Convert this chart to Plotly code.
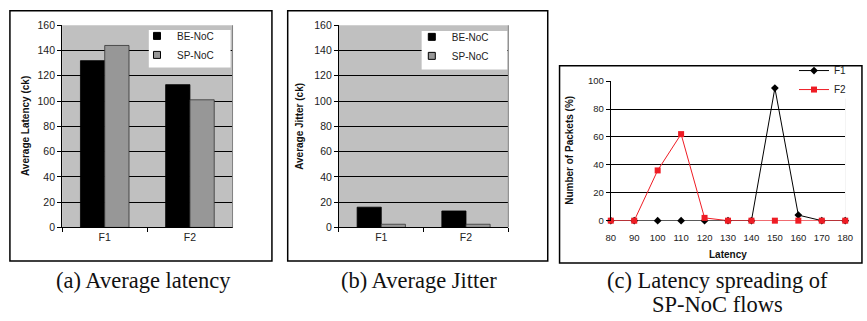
import plotly.graph_objects as go

# ---- data ----
flows = ["F1", "F2"]
latency_be = [132, 113]
latency_sp = [144, 101]
jitter_be = [16, 13]
jitter_sp = [2.5, 2.5]

latency_bins = [80, 90, 100, 110, 120, 130, 140, 150, 160, 170, 180]
f1_share = [0, 0, 0, 0, 0, 0, 0, 95, 4, 0, 0]
f2_share = [0, 0, 36, 62, 2, 0, 0, 0, 0, 0, 0]

series_names = ["BE-NoC", "SP-NoC"]

W, H = 867, 321
SANS = "Liberation Sans, Arial, sans-serif"
SERIF = "Liberation Serif, Times New Roman, serif"
BAR_COLORS = ["#000000", "#979797"]
BAR_EDGES = ["#000000", "#333333"]
PLOT_BG = "#c0c0c0"


def px_x(v):
    return v / W


def px_y(v):
    return 1 - v / H


fig = go.Figure()

panels = [
    ("x", "y", "legend", [latency_be, latency_sp]),
    ("x2", "y2", "legend2", [jitter_be, jitter_sp]),
]
for xa, ya, lg, values in panels:
    for name, vals, col, edge in zip(series_names, values, BAR_COLORS, BAR_EDGES):
        fig.add_trace(go.Bar(x=flows, y=vals, name=name, showlegend=False,
                             marker=dict(color=col, line=dict(color=edge, width=0.8)),
                             xaxis=xa, yaxis=ya))
    # small square swatches for the legend box
    for name, col in zip(series_names, BAR_COLORS):
        fig.add_trace(go.Scatter(x=[None], y=[None], mode="markers", name=name,
                                 marker=dict(symbol="square", size=7, color=col,
                                             line=dict(color="#000", width=1)),
                                 xaxis=xa, yaxis=ya, legend=lg))

# (c) latency spreading
fig.add_trace(go.Scatter(x=latency_bins, y=f1_share, name="F1", mode="lines+markers",
                         line=dict(color="#000", width=1), marker=dict(symbol="diamond", size=6, color="#000"),
                         cliponaxis=False, xaxis="x3", yaxis="y3", legend="legend3"))
fig.add_trace(go.Scatter(x=latency_bins, y=f2_share, name="F2", mode="lines+markers",
                         line=dict(color="#ee1c24", width=1), marker=dict(symbol="square", size=6, color="#ee1c24"),
                         cliponaxis=False, xaxis="x3", yaxis="y3", legend="legend3"))

bar_y = [px_y(230), px_y(20)]
tick_font = dict(family=SANS, size=10.5, color="#222")

bar_xaxis = dict(type="category", range=[-0.5, 1.5], showline=True, linecolor="#000", linewidth=1,
                 ticks="outside", tickson="boundaries", ticklen=4, tickcolor="#000",
                 tickfont=tick_font, showgrid=False, zeroline=False, fixedrange=True)
bar_yaxis = dict(range=[0, 160], dtick=20, showline=True, linecolor="#000", linewidth=1,
                 ticks="outside", ticklen=4, tickcolor="#000", tickfont=tick_font,
                 showgrid=True, gridcolor="#000", gridwidth=1, zeroline=False, fixedrange=True)
legend_font = dict(family=SANS, size=10, color="#222")
legend_base = dict(xanchor="left", yanchor="top", bgcolor="rgba(0,0,0,0)",
                   font=legend_font, tracegroupgap=0, borderwidth=0)

fig.update_layout(
    width=W, height=H,
    margin=dict(l=0, r=0, t=0, b=0),
    paper_bgcolor="white",
    plot_bgcolor=PLOT_BG,
    barmode="group", bargap=0.43, bargroupgap=0,
    font=dict(family=SANS, size=10, color="#222"),
    xaxis=dict(bar_xaxis, domain=[px_x(58), px_x(231)], anchor="y"),
    yaxis=dict(bar_yaxis, domain=bar_y, anchor="x"),
    xaxis2=dict(bar_xaxis, domain=[px_x(339), px_x(511)], anchor="y2"),
    yaxis2=dict(bar_yaxis, domain=bar_y, anchor="x2"),
    xaxis3=dict(range=[80, 180], tickvals=latency_bins, showline=False, ticks="",
                ticklabelstandoff=10,
                tickfont=dict(family=SANS, size=9.5, color="#222"), showgrid=False, zeroline=False,
                domain=[px_x(615), px_x(853)], anchor="y3", fixedrange=True),
    yaxis3=dict(range=[0, 100], dtick=20, showline=True, linecolor="#000", linewidth=1,
                ticks="outside", ticklen=4, tickcolor="#000",
                tickfont=dict(family=SANS, size=9.5, color="#222"),
                showgrid=True, gridcolor="#000", gridwidth=1, zeroline=False,
                domain=[px_y(223), px_y(78)], anchor="x3", fixedrange=True),
    legend=dict(legend_base, x=px_x(134), y=px_y(16)),
    legend2=dict(legend_base, x=px_x(413), y=px_y(17)),
    legend3=dict(legend_base, x=px_x(801), y=px_y(52)),
    showlegend=True,
)

# plot area of (c) is white, drawn as a shape under the grid
fig.add_shape(type="rect", xref="x3 domain", yref="y3 domain", x0=0, x1=1, y0=0, y1=1,
              fillcolor="white", line=dict(width=0), layer="below")

# panel frames
frames = [(5, 271, 5, 265), (287, 551, 5, 265), (563, 870, 62, 267)]
for x0, x1, y0, y1 in frames:
    fig.add_shape(type="rect", xref="paper", yref="paper",
                  x0=px_x(x0), x1=px_x(x1), y0=px_y(y1), y1=px_y(y0),
                  line=dict(color="#000", width=1.5), fillcolor="rgba(0,0,0,0)", layer="below")

# white legend boxes
legend_boxes = [(146, 229, 25, 64), (423, 510, 26, 66), (813, 867, 64, 96)]
for x0, x1, y0, y1 in legend_boxes:
    fig.add_shape(type="rect", xref="paper", yref="paper",
                  x0=px_x(x0), x1=px_x(x1), y0=px_y(y1), y1=px_y(y0),
                  fillcolor="white", line=dict(width=0), layer="above")

# gray right edge of the bar plot areas
for xr, yr in [("x domain", "y domain"), ("x2 domain", "y2 domain")]:
    fig.add_shape(type="line", xref=xr, yref=yr, x0=1, x1=1, y0=0, y1=1,
                  line=dict(color="#808080", width=1))


def label(text, x, y, font, angle=0):
    fig.add_annotation(text=text, x=px_x(x), y=px_y(y), xref="paper", yref="paper",
                       xanchor="center", yanchor="middle", textangle=angle,
                       showarrow=False, font=font)


# axis titles
title_font = dict(family=SANS, size=10, color="#111")
label("<b>Average Latency (ck)</b>", 21, 125, title_font, -90)
label("<b>Average Jitter (ck)</b>", 299, 125, title_font, -90)
label("<b>Number of Packets (%)</b>", 573, 150, title_font, -90)
label("<b>Latency</b>", 734, 258, title_font)

# captions
cap_font = dict(family=SERIF, size=22.5, color="#111")
label("(a) Average latency", 141, 285, cap_font)
label("(b) Average Jitter", 420, 285, cap_font)
label("(c) Latency spreading of", 723, 285, cap_font)
label("SP-NoC flows", 723, 310, cap_font)

fig.write_html("out.html")
